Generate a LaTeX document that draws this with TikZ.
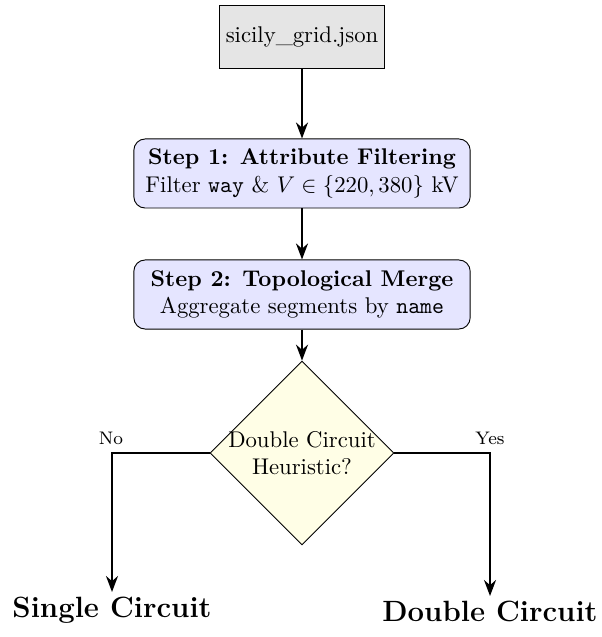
\documentclass[tikz,border=0pt]{standalone}
\usepackage{fontspec}
\usetikzlibrary{shapes.geometric,arrows.meta}

\begin{document}
\begin{tikzpicture}[x=0.44pt,y=-0.44pt,
  srcbox/.style={draw, thin, fill=gray!20, minimum width=72.6pt, minimum height=27.7pt, inner sep=0pt},
  stepbox/.style={draw, thin, fill=blue!10, rounded corners=5pt, minimum width=148pt,
    minimum height=30.4pt, align=center, inner sep=0pt},
  decision/.style={draw, thin, diamond, aspect=1, fill=yellow!10, align=center, inner sep=-0.8pt},
  outcome/.style={font=\fontsize{12.9}{15}\selectfont\bfseries, inner sep=2pt},
  flow/.style={line width=0.9pt, -Stealth},
  branch/.style={font=\footnotesize}
]
\useasboundingbox (0,0) rectangle (601,637);

% input file and processing steps
\node[srcbox] (src) at (302,36.5) {sicily\_grid.json};
\node[stepbox] (s1) at (302,173.5)
  {\textbf{Step 1: Attribute Filtering}\\Filter \texttt{way} \& $V \in \{220, 380\}$ kV};
\node[stepbox] (s2) at (302,294.5)
  {\textbf{Step 2: Topological Merge}\\Aggregate segments by \texttt{name}};

% decision
\node[decision] (dec) at (302,453) {Double Circuit\\Heuristic?};

% outcomes
\node[outcome, anchor=north] (single) at (112,592) {Single Circuit};
\node[outcome, anchor=north] (double) at (490,596) {Double Circuit};

% branch labels
\node[branch] (nolab) at (111,438) {No};
\node[branch] (yeslab) at (490,438) {Yes};

% connectors
\draw[flow] (src) -- (s1);
\draw[flow] (s1) -- (s2);
\draw[flow] (s2) -- (dec);
\draw[flow] (dec.west) -| (single);
\draw[flow] (dec.east) -| (double);
\end{tikzpicture}
\end{document}
